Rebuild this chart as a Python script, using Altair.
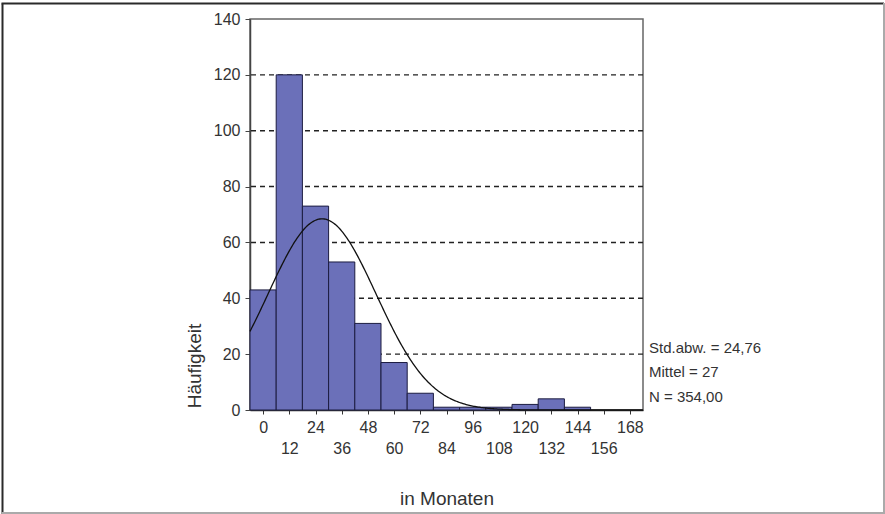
import altair as alt
import numpy as np
import pandas as pd

# Histogram of durations (months), bins of 12 months centred on multiples of 12
BIN_CENTERS = [0, 12, 24, 36, 48, 60, 72, 84, 96, 108, 120, 132, 144, 156]
COUNTS = [43, 120, 73, 53, 31, 17, 6, 1, 1, 1, 2, 4, 1, 0]
BIN_WIDTH = 12

# Summary statistics shown beside the plot and used for the normal curve
MEAN = 27
SD = 24.76
N = 354

Y_TICKS = [0, 20, 40, 60, 80, 100, 120, 140]
GRID_VALUES = [20, 40, 60, 80, 100, 120]
X_TICKS_ALL = list(range(0, 169, 12))
X_LABELS_LOWER = [12, 36, 60, 84, 108, 132, 156]

FONT = "Liberation Sans"
TEXT = "#333333"
W, H = 393, 391

bars_df = pd.DataFrame({"center": BIN_CENTERS, "count": COUNTS})
bars_df = bars_df[bars_df["count"] > 0].copy()
bars_df["start"] = bars_df["center"] - BIN_WIDTH / 2
bars_df["end"] = bars_df["center"] + BIN_WIDTH / 2

# Expected counts per bin under a normal distribution with the stated mean / sd / N
xs = np.arange(-6, 174.01, 0.5)
dens = N * BIN_WIDTH / (SD * np.sqrt(2 * np.pi)) * np.exp(-0.5 * ((xs - MEAN) / SD) ** 2)
curve_df = pd.DataFrame({"x": xs, "y": dens})

grid_df = pd.DataFrame({"y": GRID_VALUES})


def de_num(v, digits):
    return f"{v:.{digits}f}".replace(".", ",")


stats_lines = [
    f"Std.abw. = {de_num(SD, 2)}",
    f"Mittel = {MEAN}",
    f"N = {de_num(N, 2)}",
]

x_scale = alt.Scale(domain=[-6, 174], nice=False, zero=False)
y_scale = alt.Scale(domain=[0, 140], nice=False)

y_axis = alt.Axis(
    values=Y_TICKS,
    format="d",
    tickSize=5,
    labelPadding=5,
    grid=False,
    domainColor="#444444",
    domainWidth=1.5,
    tickColor="#444444",
    title="Häufigkeit",
    titleX=-50,
    titleY=346.5,
    titleAngle=270,
    titleAlign="center",
    titleBaseline="alphabetic",
)

grid = alt.Chart(grid_df).mark_rule(
    color="#222222", strokeWidth=1.4, strokeDash=[5, 4]
).encode(y=alt.Y("y:Q", scale=y_scale, axis=y_axis))

bars = alt.Chart(bars_df).mark_bar(
    color="#6b70b9", stroke="#1c1c40", strokeWidth=1
).encode(
    x=alt.X(
        "start:Q",
        scale=x_scale,
        axis=alt.Axis(
            orient="bottom",
            values=X_TICKS_ALL,
            labelExpr="datum.value % 24 === 0 ? datum.label : ''",
            tickSize=4,
            labelPadding=5,
            labelOverlap=False,
            labelFlush=False,
            grid=False,
            domainColor="#333333",
            domainWidth=1.5,
            tickColor="#333333",
            title="in Monaten",
            titleX=W / 2,
            titleY=94,
            titleAlign="center",
            titleBaseline="alphabetic",
        ),
    ),
    x2="end:Q",
    y=alt.Y("count:Q", scale=y_scale, axis=y_axis),
    y2=alt.datum(0),
)

curve = alt.Chart(curve_df).mark_line(color="#111111", strokeWidth=1.3).encode(
    x=alt.X(
        "x:Q",
        scale=x_scale,
        axis=alt.Axis(
            orient="bottom",
            values=X_LABELS_LOWER,
            ticks=False,
            tickSize=0,
            domain=False,
            grid=False,
            labelPadding=30,
            labelOverlap=False,
            labelFlush=False,
            title=None,
        ),
    ),
    y=alt.Y("y:Q", scale=y_scale, axis=y_axis),
)

stats = alt.Chart(pd.DataFrame({"k": [0]})).mark_text(
    align="left",
    baseline="alphabetic",
    font=FONT,
    fontSize=15,
    color=TEXT,
    lineHeight=24.5,
    text=stats_lines,
).encode(x=alt.value(399), y=alt.value(333.5))

# Page frame around the whole figure
one = pd.DataFrame({"k": [0]})
frame_dark = alt.Chart(one).mark_rule(color="#2a2a2a", strokeWidth=2)
frame_light = alt.Chart(one).mark_rule(color="#aaaaaa", strokeWidth=2)
frame = (
    frame_dark.encode(x=alt.value(-247.5), y=alt.value(-15.5), y2=alt.value(495))
    + frame_dark.encode(x=alt.value(-248.5), x2=alt.value(634), y=alt.value(-15.5))
    + frame_light.encode(x=alt.value(634), y=alt.value(-16), y2=alt.value(495))
    + frame_light.encode(x=alt.value(-248.5), x2=alt.value(635), y=alt.value(494))
)

chart = (
    alt.layer(grid, bars, curve, stats, frame)
    .resolve_scale(x="shared", y="shared")
    .resolve_axis(x="independent")
    .properties(
        width=W,
        height=H,
        padding={"left": 250, "top": 19, "right": 242, "bottom": 104},
        autosize=alt.AutoSizeParams(type="none"),
        background="white",
    )
    .configure_view(stroke="#666666", strokeWidth=1.5)
    .configure_axis(
        labelFont=FONT,
        labelFontSize=16,
        labelColor=TEXT,
        titleFont=FONT,
        titleFontSize=19,
        titleFontWeight="normal",
        titleColor=TEXT,
    )
)

chart.save("out.html", embed_options={"renderer": "svg", "actions": False})
